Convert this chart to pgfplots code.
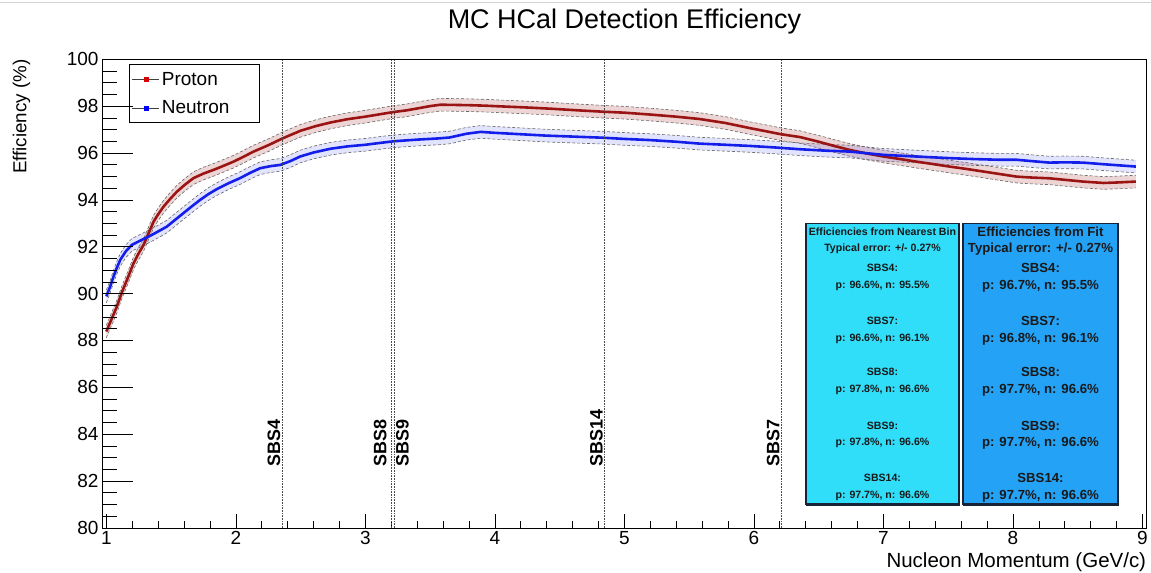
\documentclass[border=0pt]{standalone}
\usepackage{pgfplots}
\pgfplotsset{compat=1.18}
\usepackage{pgfplotstable}
\usepgfplotslibrary{fillbetween}
\usepackage{fontspec}
\setmainfont{Liberation Sans}
\definecolor{pred}{RGB}{155,20,20}
\definecolor{nblue}{RGB}{20,30,235}
\definecolor{boxA}{RGB}{48,222,250}
\definecolor{boxB}{RGB}{36,162,245}
\definecolor{boxline}{RGB}{25,35,55}

\pgfplotstableread{
x p
1.000 88.38
1.040 88.90
1.082 89.45
1.120 90.05
1.160 90.59
1.211 91.30
1.250 91.72
1.288 92.08
1.330 92.62
1.365 93.07
1.400 93.38
1.442 93.71
1.490 94.02
1.545 94.35
1.610 94.66
1.674 94.93
1.750 95.12
1.828 95.28
1.900 95.44
1.982 95.63
2.060 95.84
2.137 96.06
2.250 96.33
2.360 96.62
2.500 96.95
2.620 97.15
2.730 97.30
2.860 97.44
3.000 97.55
3.110 97.65
3.220 97.75
3.320 97.82
3.420 97.92
3.500 98.00
3.580 98.06
3.700 98.05
3.800 98.04
3.920 98.02
4.040 97.99
4.250 97.94
4.430 97.89
4.640 97.82
4.840 97.76
5.000 97.72
5.200 97.64
5.400 97.55
5.580 97.45
5.780 97.28
5.970 97.06
6.100 96.92
6.210 96.80
6.355 96.68
6.500 96.48
6.620 96.30
6.740 96.13
6.870 95.98
7.000 95.85
7.130 95.74
7.255 95.63
7.380 95.53
7.510 95.42
7.640 95.32
7.770 95.21
7.900 95.10
8.030 94.99
8.150 94.95
8.280 94.92
8.410 94.85
8.540 94.78
8.700 94.72
8.800 94.74
8.950 94.78
}\pdata

\pgfplotstableread{
x n
1.000 89.88
1.030 90.30
1.056 90.73
1.080 91.08
1.108 91.44
1.150 91.80
1.198 92.08
1.270 92.28
1.340 92.47
1.400 92.65
1.468 92.86
1.530 93.14
1.597 93.44
1.660 93.72
1.725 94.00
1.790 94.25
1.854 94.46
1.940 94.70
2.034 94.93
2.110 95.15
2.188 95.35
2.270 95.44
2.343 95.49
2.420 95.65
2.497 95.85
2.600 96.02
2.730 96.18
2.860 96.28
3.000 96.35
3.100 96.42
3.220 96.50
3.400 96.57
3.560 96.62
3.650 96.66
3.780 96.82
3.890 96.90
4.000 96.86
4.200 96.80
4.400 96.74
4.600 96.70
4.840 96.65
5.000 96.60
5.200 96.55
5.400 96.48
5.580 96.40
5.780 96.35
5.970 96.30
6.150 96.24
6.355 96.16
6.550 96.10
6.740 96.06
6.870 95.99
7.000 95.92
7.250 95.85
7.510 95.78
7.700 95.74
7.900 95.71
8.030 95.71
8.150 95.65
8.280 95.59
8.400 95.60
8.540 95.59
8.700 95.52
8.800 95.48
8.950 95.42
}\ndata

\begin{document}
\begin{tikzpicture}[
  lt/.style={font=\fontsize{10.6bp}{12bp}\selectfont\bfseries, anchor=base, yshift=-3.8bp, inner sep=0, text=black!90},
  rt/.style={font=\fontsize{13.2bp}{15bp}\selectfont\bfseries, anchor=base, yshift=-4.7bp, inner sep=0, text=black!90},
  sbs/.style={rotate=90, inner sep=0, font=\fontsize{18bp}{20bp}\selectfont\bfseries}
]
\path (0,0) rectangle (1151bp,573bp);
\draw[gray!35, line width=0.8bp] (0,571bp) -- (1151bp,571bp);
\node[anchor=base, font=\fontsize{27bp}{30bp}\selectfont, inner sep=0] at (624.5bp,544bp) {MC HCal Detection Efficiency};

\begin{axis}[
  at={(101.7bp,44.7bp)}, anchor=south west, scale only axis,
  width=1045bp, height=469bp,
  xmin=0.967, xmax=9.03, ymin=80, ymax=100,
  xtick={1,2,...,9}, minor x tick num=4, ytick=\empty,
  tick pos=left, tick align=inside,
  major tick length=14bp, minor tick length=7bp,
  axis line style={line width=0.8bp},
  tick style={black, line width=0.6bp},
  /pgf/number format/assume math mode=true,
  xticklabel style={font=\fontsize{19bp}{19bp}\selectfont},
  xlabel={Nucleon Momentum (GeV/c)},
  xlabel style={at={(axis description cs:1,0)}, anchor=base east, yshift=-39.7bp, inner sep=0, font=\fontsize{20.5bp}{22bp}\selectfont},
  legend cell align=left,
  legend style={at={(axis description cs:0.0255,0.989)}, anchor=north west, draw=black, line width=0.8bp, fill=white,
    font=\fontsize{19bp}{22bp}\selectfont, inner xsep=3bp, inner ysep=5.5bp, row sep=10bp},
]
% error bands
\addplot[forget plot, name path=pu, draw=black!60, line width=0.6bp, dash pattern=on 3bp off 2bp] table[x=x, y expr=\thisrow{p}+0.27] {\pdata};
\addplot[forget plot, name path=pl, draw=black!60, line width=0.6bp, dash pattern=on 3bp off 2bp] table[x=x, y expr=\thisrow{p}-0.27] {\pdata};
\addplot[forget plot, fill=pred, fill opacity=0.18, draw=none] fill between[of=pu and pl];
\addplot[forget plot, name path=nu, draw=black!60, line width=0.6bp, dash pattern=on 3bp off 2bp] table[x=x, y expr=\thisrow{n}+0.27] {\ndata};
\addplot[forget plot, name path=nl, draw=black!60, line width=0.6bp, dash pattern=on 3bp off 2bp] table[x=x, y expr=\thisrow{n}-0.27] {\ndata};
\addplot[forget plot, fill=nblue, fill opacity=0.12, draw=none] fill between[of=nu and nl];
% central curves
\addplot[forget plot, pred, line width=2.6bp] table[x=x, y=p] {\pdata};
\addplot[forget plot, nblue, line width=2.6bp] table[x=x, y=n] {\ndata};
% kinematic lines
\addplot[forget plot, densely dotted, black!70, line width=0.6bp] coordinates {(2.356,80) (2.356,100)};
\addplot[forget plot, densely dotted, black!70, line width=0.6bp] coordinates {(3.204,80) (3.204,100)};
\addplot[forget plot, densely dotted, black!70, line width=0.6bp] coordinates {(3.222,80) (3.222,100)};
\addplot[forget plot, densely dotted, black!70, line width=0.6bp] coordinates {(4.845,80) (4.845,100)};
\addplot[forget plot, densely dotted, black!70, line width=0.6bp] coordinates {(6.208,80) (6.208,100)};
\node[sbs, anchor=south west] at (axis cs:2.345,82.6) {SBS4};
\node[sbs, anchor=south west] at (axis cs:3.166,82.6) {SBS8};
\node[sbs, anchor=north west] at (axis cs:3.235,82.6) {SBS9};
\node[sbs, anchor=south west] at (axis cs:4.835,82.6) {SBS14};
\node[sbs, anchor=south west] at (axis cs:6.200,82.6) {SBS7};
% legend
\addlegendimage{legend image code/.code={\draw[black!75, line width=0.9bp] (0bp,0bp) -- (27bp,0bp); \fill[red!85!black] (11.5bp,-2bp) rectangle (15.5bp,2bp);}}
\addlegendentry{Proton}
\addlegendimage{legend image code/.code={\draw[black!75, line width=0.9bp] (0bp,0bp) -- (27bp,0bp); \fill[blue] (11.5bp,-2bp) rectangle (15.5bp,2bp);}}
\addlegendentry{Neutron\hspace*{25bp}}
% boxes
\filldraw[fill=boxA, draw=boxline, line width=1.5bp] (axis cs:6.401,80.99) rectangle (axis cs:7.584,93.0);
\draw[boxline, line width=2.5bp] (axis cs:7.584,93.0) -- (axis cs:7.584,80.99) -- (axis cs:6.401,80.99);
\filldraw[fill=boxB, draw=boxline, line width=1.5bp] (axis cs:7.615,80.99) rectangle (axis cs:8.811,93.0);
\draw[boxline, line width=2.5bp] (axis cs:8.811,93.0) -- (axis cs:8.811,80.99) -- (axis cs:7.615,80.99);
\node[lt] at (axis cs:6.993,92.635) {Efficiencies from Nearest Bin};
\node[lt] at (axis cs:6.993,91.953) {Typical error: +/- 0.27\%};
\node[lt] at (axis cs:6.993,91.10) {SBS4:};
\node[lt] at (axis cs:6.993,90.375) {p: 96.6\%, n: 95.5\%};
\node[lt] at (axis cs:6.993,88.84) {SBS7:};
\node[lt] at (axis cs:6.993,88.115) {p: 96.6\%, n: 96.1\%};
\node[lt] at (axis cs:6.993,86.665) {SBS8:};
\node[lt] at (axis cs:6.993,85.94) {p: 97.8\%, n: 96.6\%};
\node[lt] at (axis cs:6.993,84.36) {SBS9:};
\node[lt] at (axis cs:6.993,83.68) {p: 97.8\%, n: 96.6\%};
\node[lt] at (axis cs:6.993,82.15) {SBS14:};
\node[lt] at (axis cs:6.993,81.42) {p: 97.7\%, n: 96.6\%};
\node[rt] at (axis cs:8.213,92.635) {Efficiencies from Fit};
\node[rt] at (axis cs:8.213,91.953) {Typical error: +/- 0.27\%};
\node[rt] at (axis cs:8.213,91.10) {SBS4:};
\node[rt] at (axis cs:8.213,90.375) {p: 96.7\%, n: 95.5\%};
\node[rt] at (axis cs:8.213,88.84) {SBS7:};
\node[rt] at (axis cs:8.213,88.115) {p: 96.8\%, n: 96.1\%};
\node[rt] at (axis cs:8.213,86.665) {SBS8:};
\node[rt] at (axis cs:8.213,85.94) {p: 97.7\%, n: 96.6\%};
\node[rt] at (axis cs:8.213,84.36) {SBS9:};
\node[rt] at (axis cs:8.213,83.68) {p: 97.7\%, n: 96.6\%};
\node[rt] at (axis cs:8.213,82.15) {SBS14:};
\node[rt] at (axis cs:8.213,81.42) {p: 97.7\%, n: 96.6\%};
\end{axis}

\begin{axis}[
  at={(101.7bp,44.7bp)}, anchor=south west, scale only axis,
  width=1045bp, height=469bp,
  xmin=0.967, xmax=9.03, ymin=80, ymax=100,
  xtick=\empty, ytick={80,82,...,100}, minor y tick num=3,
  tick pos=left, tick align=inside,
  major tick length=31bp, minor tick length=15bp,
  axis line style={line width=0.8bp},
  tick style={black, line width=0.6bp},
  /pgf/number format/assume math mode=true,
  yticklabel style={font=\fontsize{19bp}{19bp}\selectfont},
  ylabel={Efficiency (\%)},
  ylabel style={at={(axis description cs:-0.0724,1)}, anchor=base east, inner sep=0, font=\fontsize{18.8bp}{20bp}\selectfont},
]
\addplot[draw=none, forget plot] coordinates {(1,90) (9,90)};
\end{axis}
\end{tikzpicture}
\end{document}
